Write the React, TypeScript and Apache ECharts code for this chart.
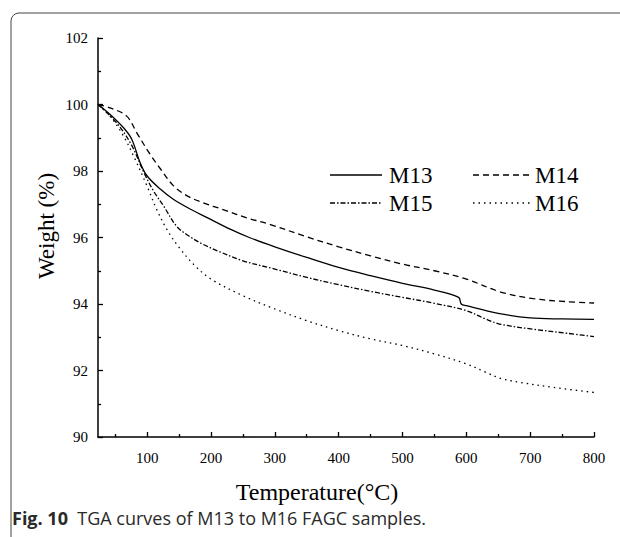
import React, { useEffect, useRef } from "react";
import * as echarts from "echarts";

const m13Temp = [23, 42, 63, 76, 89, 100, 121, 141, 168, 194, 230, 260, 300, 350, 400, 450, 500, 550, 588, 592, 600, 650, 700, 750, 800];
const m13Weight = [100, 99.7, 99.3, 98.95, 98.25, 97.85, 97.45, 97.15, 96.85, 96.6, 96.25, 96.0, 95.72, 95.4, 95.1, 94.85, 94.62, 94.42, 94.2, 94.0, 93.95, 93.72, 93.58, 93.55, 93.54];

const m14Temp = [23, 42, 68, 84, 105, 121, 141, 162, 188, 219, 256, 293, 350, 400, 450, 500, 550, 600, 654, 705, 758, 800];
const m14Weight = [100, 99.9, 99.65, 99.14, 98.49, 98.06, 97.56, 97.26, 97.04, 96.84, 96.59, 96.39, 96.02, 95.72, 95.45, 95.2, 95.0, 94.75, 94.36, 94.16, 94.07, 94.03];

const m15Temp = [23, 52, 75, 95, 110, 126, 146, 165, 185, 210, 250, 300, 350, 400, 450, 500, 550, 600, 630, 654, 705, 758, 800];
const m15Weight = [100, 99.45, 98.8, 97.95, 97.4, 96.94, 96.34, 96.05, 95.82, 95.6, 95.3, 95.05, 94.8, 94.58, 94.38, 94.2, 94.02, 93.8, 93.55, 93.39, 93.24, 93.12, 93.02];

const m16Temp = [23, 42, 63, 79, 100, 115, 131, 150, 175, 200, 250, 300, 350, 400, 450, 500, 550, 600, 630, 654, 685, 737, 800];
const m16Weight = [100, 99.65, 99.05, 98.44, 97.54, 96.84, 96.24, 95.7, 95.15, 94.75, 94.25, 93.85, 93.5, 93.2, 92.95, 92.75, 92.5, 92.2, 91.95, 91.76, 91.64, 91.49, 91.34];

const xMajorTicks = [100, 200, 300, 400, 500, 600, 700, 800];
const xMinorTicks = [50, 150, 250, 350, 450, 550, 650, 750];

const seriesNames = ["M13", "M14", "M15", "M16"];

const SERIF = "'Liberation Serif', 'Times New Roman', serif";
const SANS = "'Open Sans', 'Noto Sans', sans-serif";

const dashStyles: any[] = ["solid", [6, 4], [5, 2, 1.5, 2], [1.5, 4]];

function pairs(t: number[], w: number[]) {
  return t.map((v, i) => [v, w[i]]);
}

export default function App() {
  const ref = useRef<HTMLDivElement>(null);
  useEffect(() => {
    if (!ref.current) return;
    const chart = echarts.init(ref.current, null, { renderer: "svg" });
    const datasets = [
      pairs(m13Temp, m13Weight),
      pairs(m14Temp, m14Weight),
      pairs(m15Temp, m15Weight),
      pairs(m16Temp, m16Weight),
    ];
    const legendRows = [
      { x1: 330, x2: 382, tx: 389, y: 175 },
      { x1: 473, x2: 530, tx: 535, y: 175 },
      { x1: 330, x2: 382, tx: 389, y: 203 },
      { x1: 473, x2: 530, tx: 535, y: 203 },
    ];
    const legendGraphics: any[] = [];
    seriesNames.forEach((n, i) => {
      const r = legendRows[i];
      legendGraphics.push({
        type: "line",
        shape: { x1: r.x1, y1: r.y, x2: r.x2, y2: r.y },
        style: { stroke: "#000", lineWidth: 1.3, lineDash: dashStyles[i] === "solid" ? null : dashStyles[i] },
      });
      legendGraphics.push({
        type: "text",
        x: r.tx,
        y: r.y,
        style: { text: n, font: `23px ${SERIF}`, fill: "#000", verticalAlign: "middle" },
      });
    });
    chart.setOption({
      animation: false,
      backgroundColor: "#fff",
      grid: { left: 98, right: 26, top: 38, bottom: 100, containLabel: false },
      xAxis: [
        {
          type: "value",
          min: 23,
          max: 800,
          axisLine: { show: true, lineStyle: { color: "#000", width: 1.5 } },
          axisTick: { show: true, inside: true, length: 5, customValues: xMajorTicks, lineStyle: { color: "#000", width: 1.3 } },
          axisLabel: { show: true, customValues: xMajorTicks, fontSize: 15, fontFamily: SERIF, color: "#000", margin: 13 },
          splitLine: { show: false },
        },
        {
          type: "value",
          min: 23,
          max: 800,
          position: "bottom",
          axisLine: { show: false },
          axisTick: { show: true, inside: true, length: 3, customValues: xMinorTicks, lineStyle: { color: "#000", width: 1.3 } },
          axisLabel: { show: false },
          splitLine: { show: false },
        },
      ],
      yAxis: {
        type: "value",
        min: 90,
        max: 102,
        interval: 2,
        axisLine: { show: true, lineStyle: { color: "#000", width: 1.5 } },
        axisTick: { show: true, inside: true, length: 5, lineStyle: { color: "#000", width: 1.3 } },
        minorTick: { show: true, splitNumber: 2, length: 3, lineStyle: { color: "#000", width: 1.3 } },
        axisLabel: { fontSize: 15, fontFamily: SERIF, color: "#000", margin: 10 },
        splitLine: { show: false },
      },
      series: seriesNames.map((n, i) => ({
        name: n,
        type: "line",
        xAxisIndex: 0,
        data: datasets[i],
        smooth: 0.35,
        showSymbol: false,
        symbol: "none",
        lineStyle: { color: "#000", width: 1.3, type: dashStyles[i] },
      })),
      graphic: [
        {
          type: "rect",
          shape: { x: 11, y: 13, width: 700, height: 600, r: [8, 0, 0, 0] },
          style: { fill: "none", stroke: "#444", lineWidth: 1 },
          silent: true,
        },
        {
          type: "text",
          x: 317,
          y: 492,
          style: { text: "Temperature(°C)", font: `24px ${SERIF}`, fill: "#000", align: "center", verticalAlign: "middle" },
        },
        {
          type: "text",
          x: 46,
          y: 226,
          rotation: Math.PI / 2,
          style: { text: "Weight (%)", font: `23px ${SERIF}`, fill: "#000", align: "center", verticalAlign: "middle" },
        },
        {
          type: "text",
          x: 12,
          y: 518,
          style: {
            text: "{b|Fig. 10}  TGA curves of M13 to M16 FAGC samples.",
            font: `18px ${SANS}`,
            fill: "#2a2a2a",
            verticalAlign: "middle",
            rich: {
              b: { fontWeight: "bold", fontSize: 18, fontFamily: SANS, fill: "#2a2a2a" },
            },
          },
        },
        ...legendGraphics,
      ],
    });
    return () => chart.dispose();
  }, []);
  return <div ref={ref} style={{ position: "fixed", left: 0, top: 0, width: 620, height: 537 }} />;
}
